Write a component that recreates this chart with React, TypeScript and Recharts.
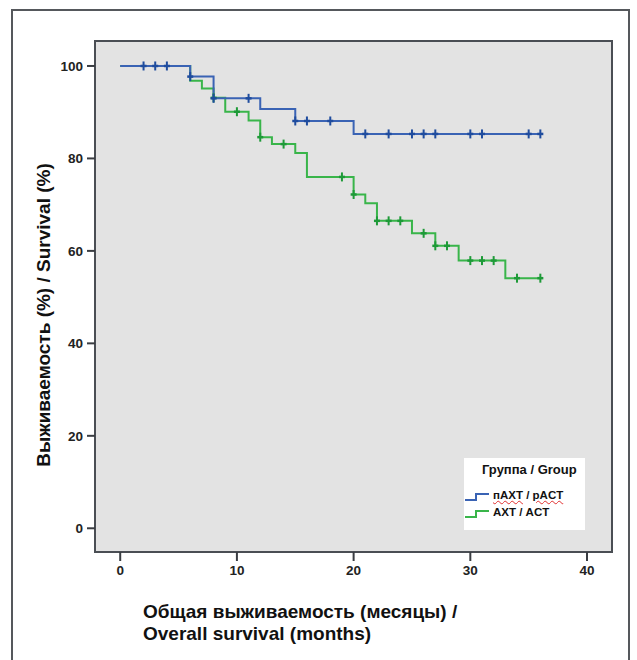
import {
  ComposedChart,
  Line,
  XAxis,
  YAxis,
  ReferenceArea,
  Label
} from "recharts"

// Kaplan-Meier values (months, % survival)
const pactEventTimes = [0, 6, 8, 12, 15, 20]
const pactSurvival = [100, 97.7, 93.0, 90.7, 88.1, 85.3]
const pactCensored = [2, 3, 4, 6, 8, 11, 15, 16, 18, 21, 23, 25, 26, 27, 30, 31, 35, 36]

const actEventTimes = [0, 6, 7, 8, 9, 11, 12, 13, 15, 16, 20, 21, 22, 25, 27, 29, 33]
const actSurvival = [100, 96.8, 95.1, 93.1, 90.1, 88.2, 84.6, 83.1, 81.2, 76.0, 72.2, 70.3, 66.5, 63.8, 61.1, 57.9, 54.1]
const actCensored = [8, 10, 12, 14, 19, 20, 22, 23, 24, 26, 27, 28, 30, 31, 32, 34, 36]

const xTicks = [0, 10, 20, 30, 40]
const yTicks = [0, 20, 40, 60, 80, 100]

const X_MIN = -2.16
const X_MAX = 42.14
const Y_MIN = -5.13
const Y_MAX = 105.4

const BLUE = "#3a63b4"
const BLUE_DARK = "#1f4c9e"
const GREEN = "#39b54a"
const GREEN_DARK = "#1e9a38"

const FONT = "'Liberation Sans', Arial, sans-serif"

// step value at time t (last event at or before t)
function levelAt(times: number[], surv: number[], t: number) {
  let v = surv[0]
  for (let i = 0; i < times.length; i++) {
    if (times[i] <= t) v = surv[i]
  }
  return v
}

function buildSeries(times: number[], surv: number[], censored: number[]) {
  const all = Array.from(new Set([...times, ...censored])).sort((a, b) => a - b)
  return all.map(t => ({
    t,
    s: levelAt(times, surv, t),
    c: censored.includes(t)
  }))
}

const pactData = buildSeries(pactEventTimes, pactSurvival, pactCensored)
const actData = buildSeries(actEventTimes, actSurvival, actCensored)

const censorDot = (color: string) => (props: any) => {
  const { cx, cy, payload, index } = props
  if (!payload || !payload.c) return <g key={`n-${index}`} />
  return (
    <g key={`c-${index}`}>
      <line x1={cx} x2={cx} y1={cy - 4.5} y2={cy + 4.5} stroke={color} strokeWidth={2} />
      <line x1={cx - 3} x2={cx + 3} y1={cy} y2={cy} stroke={color} strokeWidth={2.5} />
    </g>
  )
}

const StepIcon = ({ color }: { color: string }) => (
  <svg width={26} height={10} style={{ display: "block" }}>
    <path d="M1 8 H12 V2 H25" fill="none" stroke={color} strokeWidth={2} />
  </svg>
)

const wavy: any = {
  textDecorationLine: "underline",
  textDecorationStyle: "wavy",
  textDecorationColor: "#e03030",
  textDecorationThickness: "1px"
}

export default function App() {

  return (

    <div
      style={{
        position: "absolute",
        left: 0,
        top: 0,
        width: 637,
        height: 660,
        overflow: "hidden",
        background: "#ffffff",
        fontFamily: FONT
      }}
    >

      {/* outer frame */}
      <div
        style={{
          position: "absolute",
          left: 11,
          top: 9,
          width: 619,
          height: 700,
          border: "2px solid #55585c",
          boxSizing: "border-box"
        }}
      />

      <div style={{ position: "absolute", left: 0, top: 0 }}>

        <ComposedChart
          width={637}
          height={660}
          margin={{ top: 41, right: 25, bottom: 78, left: 55 }}
        >

          <ReferenceArea
            x1={X_MIN}
            x2={X_MAX}
            y1={Y_MIN}
            y2={Y_MAX}
            fill="#e3e3e3"
            fillOpacity={1}
            stroke="#4a4e54"
            strokeWidth={2}
          />

          <XAxis
            type="number"
            dataKey="t"
            domain={[X_MIN, X_MAX]}
            ticks={xTicks}
            allowDataOverflow
            axisLine={false}
            tickSize={9}
            tickMargin={4}
            height={30}
            tickLine={{ stroke: "#3a3d42", strokeWidth: 2 }}
            tick={{ fill: "#222", fontSize: 13.5, fontWeight: 700, fontFamily: FONT }}
          >
            <Label
              content={() => (
                <text
                  fill="#111"
                  fontSize={19}
                  fontWeight={700}
                  fontFamily={FONT}
                >
                  <tspan x={143} y={618}>Общая выживаемость (месяцы) /</tspan>
                  <tspan x={143} y={640}>Overall survival (months)</tspan>
                </text>
              )}
            />
          </XAxis>

          <YAxis
            type="number"
            domain={[Y_MIN, Y_MAX]}
            ticks={yTicks}
            allowDataOverflow
            axisLine={false}
            width={40}
            tickSize={8}
            tickMargin={4}
            tickLine={{ stroke: "#3a3d42", strokeWidth: 2 }}
            tick={{ fill: "#222", fontSize: 13.5, fontWeight: 700, fontFamily: FONT }}
          >
            <Label
              content={() => (
                <text
                  x={43}
                  y={315}
                  transform="rotate(-90 43 315)"
                  textAnchor="middle"
                  dominantBaseline="central"
                  fill="#111"
                  fontSize={19}
                  fontWeight={700}
                  fontFamily={FONT}
                >
                  Выживаемость (%) / Survival (%)
                </text>
              )}
            />
          </YAxis>

          <Line
            data={actData}
            dataKey="s"
            type="stepAfter"
            stroke={GREEN}
            strokeWidth={2}
            dot={censorDot(GREEN_DARK)}
            activeDot={false}
            isAnimationActive={false}
          />

          <Line
            data={pactData}
            dataKey="s"
            type="stepAfter"
            stroke={BLUE}
            strokeWidth={2}
            dot={censorDot(BLUE_DARK)}
            activeDot={false}
            isAnimationActive={false}
          />

        </ComposedChart>

      </div>

      {/* legend */}
      <div
        style={{
          position: "absolute",
          left: 464,
          top: 458,
          width: 121,
          height: 72,
          background: "#ffffff",
          color: "#111",
          fontWeight: 700
        }}
      >
        <div style={{ position: "absolute", left: 18, top: 4, fontSize: 13, whiteSpace: "nowrap" }}>
          Группа / Group
        </div>
        <div style={{ position: "absolute", left: 0, top: 34 }}>
          <StepIcon color={BLUE} />
        </div>
        <div style={{ position: "absolute", left: 29, top: 31, fontSize: 11.5, whiteSpace: "nowrap" }}>
          <span style={wavy}>пАХТ</span> / <span style={wavy}>pACT</span>
        </div>
        <div style={{ position: "absolute", left: 0, top: 51 }}>
          <StepIcon color={GREEN} />
        </div>
        <div style={{ position: "absolute", left: 29, top: 48, fontSize: 11.5, whiteSpace: "nowrap" }}>
          АХТ / ACT
        </div>
      </div>

    </div>

  )

}
